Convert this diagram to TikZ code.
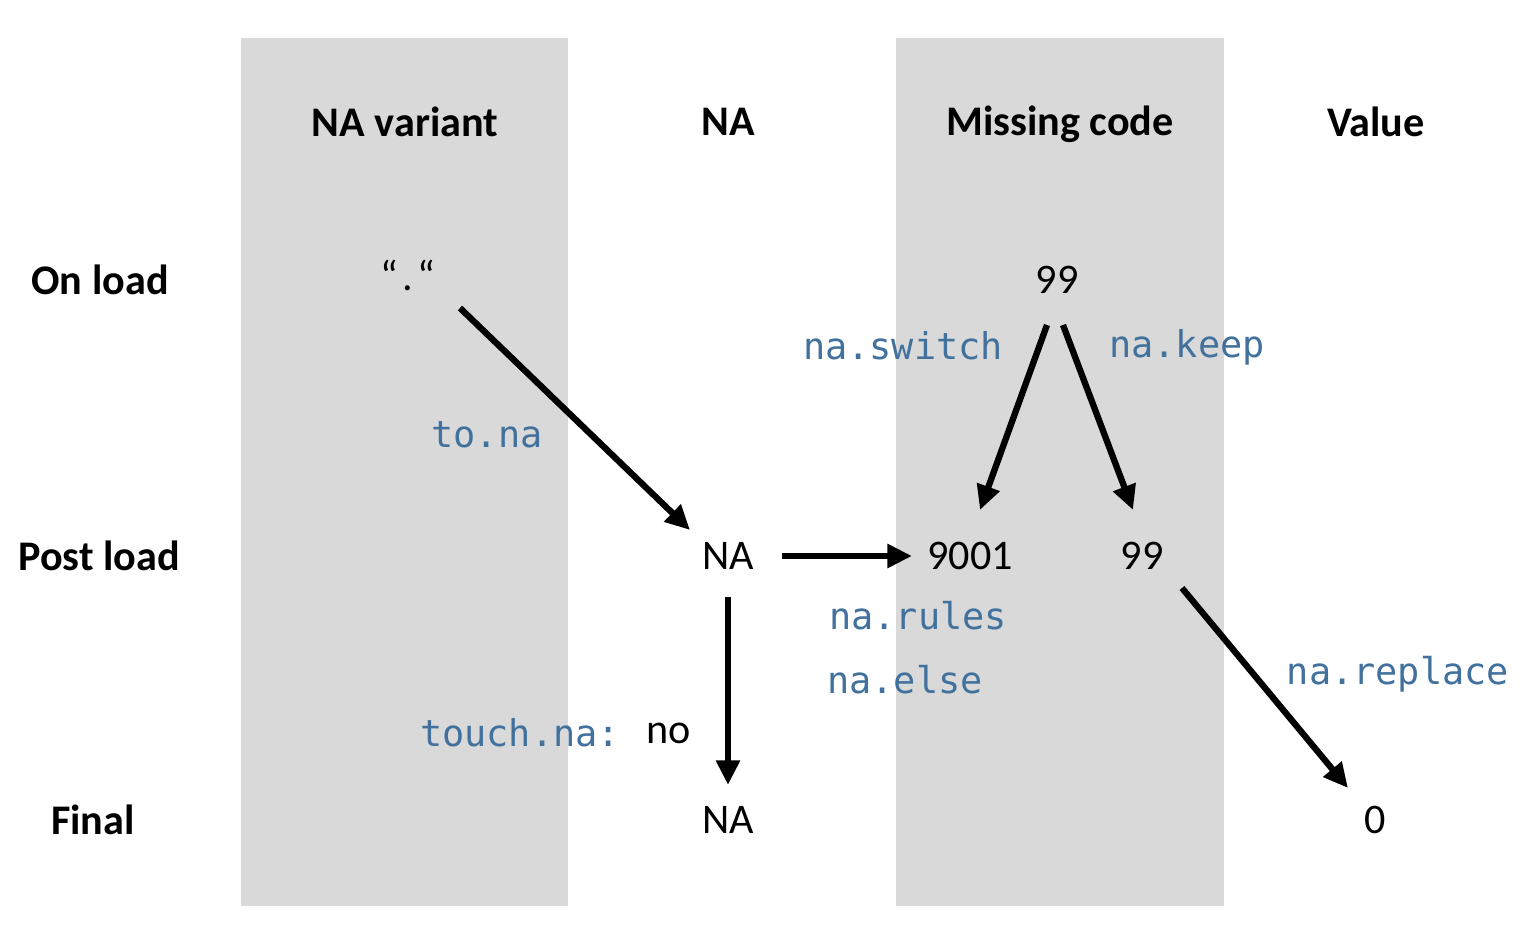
\documentclass[tikz,border=0pt]{standalone}
\usepackage{fontspec}
\setmainfont{Carlito}
\setmonofont{DejaVu Sans Mono}
\usetikzlibrary{arrows.meta}
\definecolor{bandgray}{RGB}{217,217,217}
\definecolor{argblue}{RGB}{65,113,156}
\begin{document}
\begin{tikzpicture}[
  head/.style={font=\fontsize{12}{14}\selectfont\bfseries},
  val/.style={font=\fontsize{12}{14}\selectfont},
  arg/.style={font=\fontsize{10.5}{12}\selectfont\ttfamily, text=argblue},
  arr/.style={line width=1.8pt, -{Triangle[length=7pt,width=6.5pt]}}
]
\useasboundingbox (0,0) rectangle (15.35,-9.44);
% grey columns (NA variant, Missing code)
\fill[bandgray] (2.41,-0.38) rectangle (5.68,-9.06);
\fill[bandgray] (8.96,-0.38) rectangle (12.24,-9.06);

% column heads
\node[head] (hvar)  at (4.05,-1.22)  {NA variant};
\node[head] (hna)   at (7.28,-1.22)  {NA};
\node[head] (hcode) at (10.60,-1.24) {Missing code};
\node[head] (hval)  at (13.76,-1.22) {Value};

% row heads
\node[head] (ronload) at (1.00,-2.80) {On load};
\node[head] (rpost)   at (0.99,-5.56) {Post load};
\node[head] (rfinal)  at (0.93,-8.20) {Final};

% values
\node[val] (dot)    at (4.08,-2.75)  {“\kern1.2pt.\kern1.2pt“};
\node[val] (code)   at (10.57,-2.80) {99};
\node[val] (na)     at (7.28,-5.56)  {NA};
\node[val] (nine)   at (9.70,-5.56)  {9001};
\node[val] (keep)   at (11.42,-5.56) {99};
\node[val] (nafin)  at (7.28,-8.20)  {NA};
\node[val] (zero)   at (13.75,-8.20) {0};

% arrows
\draw[arr] ([xshift=0.52cm,yshift=-0.33cm]dot.center) -- ([xshift=-0.38cm,yshift=0.26cm]na.center);
\draw[arr] ([xshift=-0.10cm,yshift=-0.45cm]code.center) -- ([xshift=0.10cm,yshift=0.46cm]nine.center);
\draw[arr] ([xshift=0.06cm,yshift=-0.45cm]code.center) -- ([xshift=-0.09cm,yshift=0.46cm]keep.center);
\draw[arr] ([xshift=0.54cm]na.center) -- ([xshift=-0.58cm]nine.center);
\draw[arr] ([yshift=-0.41cm]na.center) -- ([yshift=0.35cm]nafin.center);
\draw[arr] ([xshift=0.40cm,yshift=-0.32cm]keep.center) -- ([xshift=-0.27cm,yshift=0.32cm]zero.center);

% argument labels
\node[arg] (tona)    at (4.87,-4.35)  {to.na};
\node[arg] (switch)  at (9.03,-3.46)  {na.switch};
\node[arg] (keeparg) at (11.87,-3.47) {na.keep};
\node[arg] (rules)   at (9.18,-6.16)  {na.rules};
\node[arg] (else)    at (9.05,-6.80)  {na.else};
\node[arg] (replace) at (13.98,-6.74) {na.replace};
\node[arg] (touch)   at (5.20,-7.33)  {touch.na:};
\node[val] (no)      at (6.69,-7.33)  {no};
\end{tikzpicture}
\end{document}
